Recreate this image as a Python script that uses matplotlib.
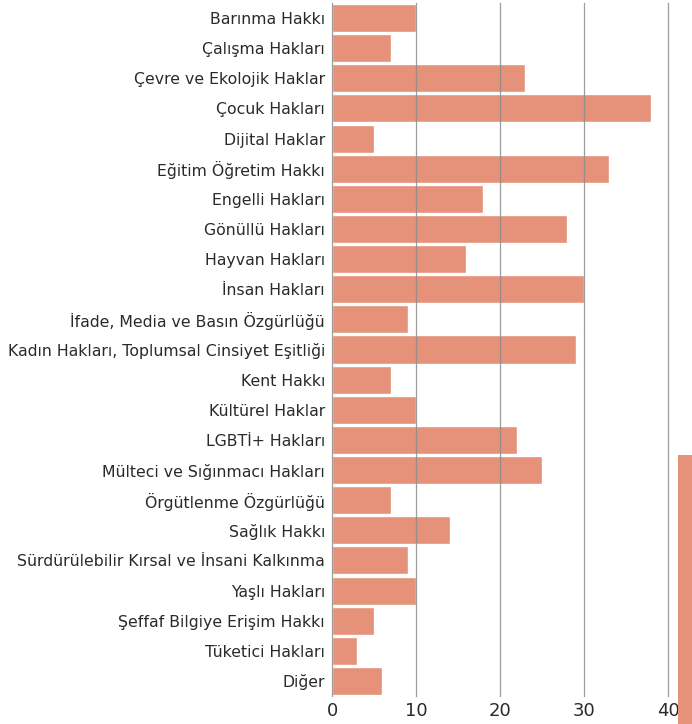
import matplotlib
matplotlib.use("Agg")
import matplotlib.pyplot as plt

plt.rcParams["font.family"] = ["DejaVu Sans"]

BAR = "#e6917a"
GRID = "#8c8c8c"
TEXT = "#2a2a2a"

categories = [
    "Barınma Hakkı",
    "Çalışma Hakları",
    "Çevre ve Ekolojik Haklar",
    "Çocuk Hakları",
    "Dijital Haklar",
    "Eğitim Öğretim Hakkı",
    "Engelli Hakları",
    "Gönüllü Hakları",
    "Hayvan Hakları",
    "İnsan Hakları",
    "İfade, Media ve Basın Özgürlüğü",
    "Kadın Hakları, Toplumsal Cinsiyet Eşitliği",
    "Kent Hakkı",
    "Kültürel Haklar",
    "LGBTİ+ Hakları",
    "Mülteci ve Sığınmacı Hakları",
    "Örgütlenme Özgürlüğü",
    "Sağlık Hakkı",
    "Sürdürülebilir Kırsal ve İnsani Kalkınma",
    "Yaşlı Hakları",
    "Şeffaf Bilgiye Erişim Hakkı",
    "Tüketici Hakları",
    "Diğer",
]
counts = [10, 7, 23, 38, 5, 33, 18, 28, 16, 30, 9, 29, 7, 10, 22, 25, 7, 14, 9, 10, 5, 3, 6]
x_ticks = [0, 10, 20, 30, 40]

fig = plt.figure(figsize=(6.92, 7.24), dpi=100)
ax = fig.add_axes([332 / 692, 28 / 724, 336 / 692, 693 / 724])

ypos = list(range(len(categories)))
ax.barh(ypos, counts, height=0.93, color=BAR, edgecolor="white", linewidth=1.0, zorder=2)

ax.set_ylim(len(categories) - 0.5, -0.5)
ax.set_xlim(0, 40)
ax.set_yticks(ypos)
ax.set_yticklabels(categories, fontsize=11.3, color=TEXT)
ax.set_xticks(x_ticks)
ax.set_xticklabels([str(t) for t in x_ticks], fontsize=13, color=TEXT)
ax.tick_params(length=0, pad=5)
ax.tick_params(axis="x", pad=4)

for t in x_ticks:
    ax.axvline(t, color=GRID, linewidth=0.9, alpha=0.85, zorder=3, clip_on=False)
for s in ax.spines.values():
    s.set_visible(False)

# partial element cut off at the right edge of the original
ax2 = fig.add_axes([678 / 692, 0, 16 / 692, 269 / 724])
ax2.bar([0], [1], width=1, color=BAR)
ax2.set_xlim(-0.5, 0.5)
ax2.set_ylim(0, 1)
ax2.axis("off")

fig.savefig("out.png", dpi=100, facecolor="white")
